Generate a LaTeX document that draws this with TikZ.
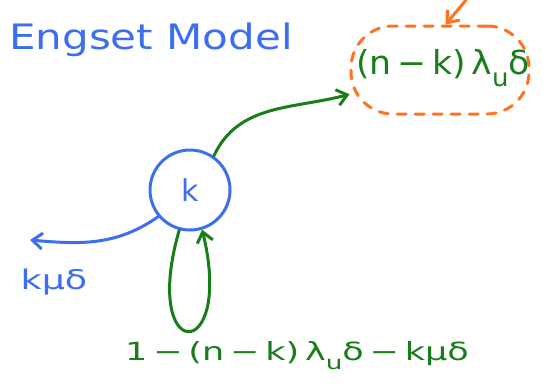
\documentclass[tikz,border=0pt]{standalone}
\usepackage{fontspec}
\setmainfont{DejaVu Sans}
\usetikzlibrary{arrows.meta}
\definecolor{hblue}{RGB}{60,110,240}
\definecolor{hgreen}{RGB}{25,125,25}
\definecolor{horange}{RGB}{255,115,30}
\newcommand{\lsub}[1]{\raisebox{-0.35em}{\scalebox{0.75}{#1}}}
\begin{document}
\begin{tikzpicture}[x=1pt,y=-1pt,
  pen/.style={line width=3pt,line cap=round,line join=round},
  tip/.style={-{Straight Barb[length=10pt,width=16pt,line width=3pt]}},
  lbl/.style={inner sep=0pt}]
\useasboundingbox (0,0) rectangle (543,384);
\node[lbl,text=hblue,font=\fontsize{35}{40}\selectfont,xscale=1.2] (title) at (151,40) {Engset Model};
\node[pen,draw=hblue,circle,minimum size=80pt,text=hblue,font=\fontsize{30}{34}\selectfont] (k) at (190,190) {k};
\node[pen,draw=horange,dash pattern=on 9pt off 9pt,rounded corners=42pt,minimum width=178pt,minimum height=88pt] (lam) at (440,70) {};
\node[lbl,text=hgreen,font=\fontsize{33}{38}\selectfont,xscale=1.05] (lamt) at (443,68) {(n\,−\,k)\,λ\lsub{u}δ};
\coordinate (out) at (30,240);
\coordinate (otop) at (466,0);
\node[lbl,text=hblue,font=\fontsize{27}{32}\selectfont,xscale=1.35] (kmu) at (54,282) {kμδ};
\node[lbl,text=hgreen,font=\fontsize{25}{30}\selectfont,xscale=1.4] (bot) at (297,356) {1\,−\,(n\,−\,k)\,λ\lsub{u}δ\,−\,kμδ};
\draw[pen,hgreen,tip] (k.55) to[out=65,in=195] (lam.195);
\draw[pen,hblue,tip] (k.220) to[out=215,in=-5] (out);
\draw[pen,hgreen,tip] (k.255) .. controls (140,365) and (235,365) .. (k.287);
\draw[pen,horange,tip] (otop) -- (lam.83);
\end{tikzpicture}
\end{document}
